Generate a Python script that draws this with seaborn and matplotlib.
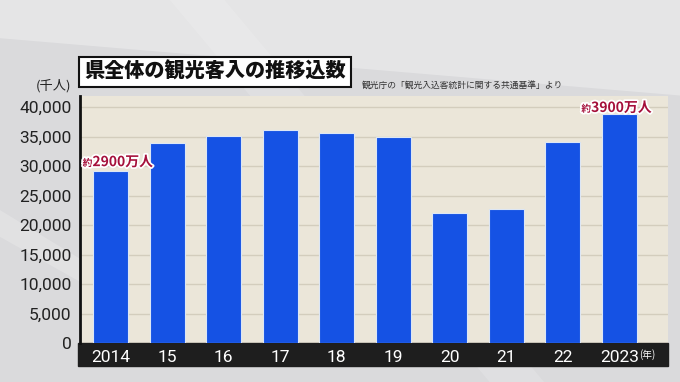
import matplotlib
matplotlib.use('Agg')
import matplotlib.pyplot as plt
import matplotlib.patheffects as pe
from matplotlib.patches import Rectangle, Polygon
import seaborn as sns
import pandas as pd

# データ (千人)
years = ['2014', '15', '16', '17', '18', '19', '20', '21', '22', '2023']
visitors = [29100, 34000, 35100, 36100, 35700, 35000, 22100, 22800, 34100, 38800]
yticks = [0, 5000, 10000, 15000, 20000, 25000, 30000, 35000, 40000]

title = '県全体の観光客入の推移込数'
source = '観光庁の「観光入込客統計に関する共通基準」より'

df = pd.DataFrame({'year': years, 'visitors': visitors})

sns.set_theme(style='white')
jp = ['Noto Sans CJK JP', 'DejaVu Sans']
num = ['Roboto', 'DejaVu Sans']
plt.rcParams['font.family'] = jp

fig = plt.figure(figsize=(6.8, 3.82), dpi=100)
fig.patch.set_facecolor('#dadadc')

# 背景の斜めの光
bg = fig.add_axes([0, 0, 1, 1], zorder=-10)
bg.set_xlim(0, 1)
bg.set_ylim(0, 1)
bg.axis('off')
bg.add_patch(Polygon([[0, 1], [1, 1], [1, 0.75], [0, 0.9]], color='white', alpha=0.3, lw=0))
bg.add_patch(Polygon([[0.25, 1], [0.33, 1], [0.8, 0], [0.72, 0]], color='white', alpha=0.15, lw=0))
bg.add_patch(Polygon([[0, 0.45], [0.12, 0.32], [0.12, 0.26], [0, 0.38]], color='white', alpha=0.2, lw=0))

ax = fig.add_axes([80 / 680, 39 / 382, 588 / 680, 247 / 382])
ax.set_facecolor('#ebe6d9')
sns.barplot(data=df, x='year', y='visitors', color='#1552e4', saturation=1, width=0.62,
            edgecolor='#dce6f5', linewidth=0.8, ax=ax, zorder=3)

ax.set_xlim(-0.54, 9.86)
ax.set_ylim(0, 41900)
ax.set_yticks(yticks)
ax.set_yticklabels([f'{v:,}' for v in yticks], family=num, fontsize=12.5, color='#222222')
ax.yaxis.grid(True, color='#d3cdbd', lw=1)
ax.xaxis.grid(False)
ax.tick_params(axis='y', length=0, pad=6)
ax.tick_params(axis='x', length=0, pad=5)
for s in ['top', 'right', 'bottom']:
    ax.spines[s].set_visible(False)
ax.spines['left'].set_color('#111111')
ax.spines['left'].set_linewidth(2)
ax.set_xlabel('')
ax.set_ylabel('')

# 年ラベルの黒帯
ax.add_patch(Rectangle((-0.004, -0.095), 1.004, 0.095, transform=ax.transAxes,
                       color='#1e1e1e', clip_on=False, zorder=0.2))
ax.set_xticklabels(years, family=num, fontsize=12.5, color='white')
ax.text(9.5, -2000, '(年)', fontsize=7, color='white', ha='center', va='center',
        zorder=7, clip_on=False)

# 単位
ax.text(-0.015, 1.04, '(千人)', transform=ax.transAxes, fontsize=9.5,
        color='#222222', ha='right', va='center')

# 注記
stroke = [pe.withStroke(linewidth=2.5, foreground='white')]
red = '#a5103b'
notes = [(0, -0.32, 30000, '2900万人'), (9, -0.5, 39200, '3900万人')]
for xi, dx, yv, txt in notes:
    ax.text(xi + dx, yv, '約', fontsize=7, color=red, ha='right', va='baseline',
            weight='bold', path_effects=stroke, zorder=8)
    ax.text(xi + dx, yv, txt, fontsize=10, color=red, ha='left', va='baseline',
            weight='bold', path_effects=stroke, zorder=8)

# タイトル
fig.text(84 / 680, 1 - 72 / 382, title, fontsize=14.5, weight='heavy', color='#111111',
         ha='left', va='center',
         bbox=dict(boxstyle='square,pad=0.25', facecolor='white', edgecolor='#111111', lw=1.5))
fig.text(362 / 680, 1 - 85 / 382, source, fontsize=6.3, color='#333333',
         ha='left', va='center')

fig.savefig('out.png', dpi=100, facecolor=fig.get_facecolor())
